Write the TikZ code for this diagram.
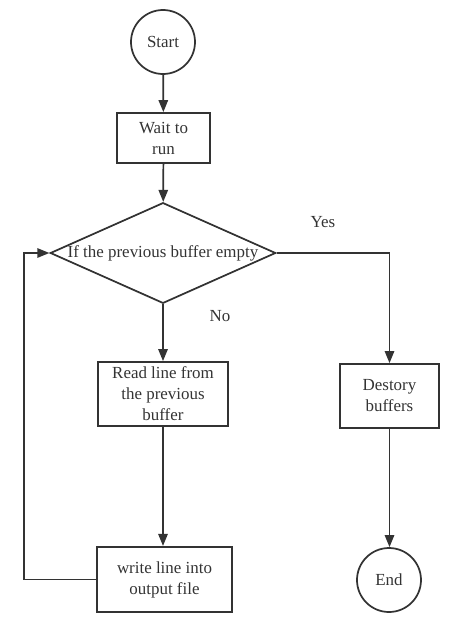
\documentclass[tikz,border=0pt]{standalone}
\usepackage{fontspec}
\setmainfont{Liberation Serif}
\usetikzlibrary{arrows.meta, shapes.geometric, positioning}
\definecolor{ink}{HTML}{333333}

\begin{document}
\begin{tikzpicture}[x=0.75pt, y=-0.75pt,
    every node/.style={font=\rmfamily\fontsize{12.7}{15.75}\selectfont, text=ink},
    terminal/.style={draw=ink, line width=1.3pt, circle, minimum size=48pt, inner sep=0pt},
    process/.style={draw=ink, line width=1.3pt, rectangle, align=center, inner sep=2pt},
    decision/.style={draw=ink, line width=1.3pt, diamond, aspect=2.24, inner sep=0pt,
                     minimum width=165pt, minimum height=73.5pt},
    arr/.style={draw=ink, line width=1.3pt, -{Triangle[width=7pt, length=9pt]}}]
  \useasboundingbox (0,0) rectangle (455,625);

  % start and the waiting step
  \node[terminal] (start) at (163,42) {Start};
  \node[process, minimum width=70pt, minimum height=37.5pt] (wait) at (163.5,138) {Wait to\\run};

  % the check on the previous buffer
  \node[decision] (check) at (163,253) {If the previous buffer empty};
  \node (yes) at (323,222) {Yes};
  \node (no) at (220,316) {No};

  % No branch
  \node[process, minimum width=97.5pt, minimum height=48pt] (read) at (163,394) {Read line from\\the previous\\buffer};
  \node[process, minimum width=101pt, minimum height=49pt] (write) at (164.5,579.5) {write line into\\output file};

  % Yes branch
  \node[process, minimum width=74pt, minimum height=48pt] (destroy) at (389.5,396) {Destory\\buffers};
  \node[terminal] (end) at (389,580) {End};

  \coordinate (loop) at (24,253);

  % connectors
  \draw[arr] (start) -- (wait);
  \draw[arr] (wait) -- (check);
  \draw[arr] (check.south) -- (check.south |- read.north);
  \draw[arr] (read.south) -- (read.south |- write.north);
  \draw[arr] (write.west) -| (loop) -- (check.west);
  \draw[arr] (check.east) -| (destroy.north);
  \draw[arr] (destroy.south) -- (destroy.south |- end.north);
\end{tikzpicture}
\end{document}
